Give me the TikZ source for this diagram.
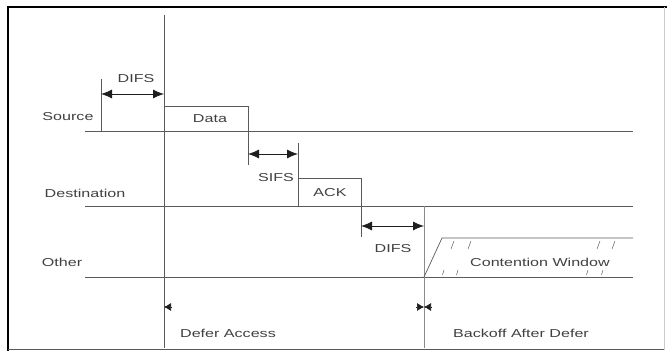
\documentclass[tikz,border=0pt]{standalone}
\usepackage{fontspec}
\setmainfont{Liberation Sans}[FakeStretch=1.4]
\usepackage{tikz}
\usetikzlibrary{positioning,arrows.meta,calc}
\definecolor{ink}     {HTML}{1E1E1E}
\definecolor{wire}    {HTML}{5A5A5A}
\definecolor{softink} {HTML}{404040}
\tikzset{
  every node/.style={font=\fontsize{11.5}{13}\selectfont, text=softink, inner sep=1pt},
  % --- lines
  lane/.style  = {draw=wire, line width=0.8pt},
  edge/.style  = {draw=wire, line width=0.7pt},
  span/.style  = {{Latex[length=11pt,width=9pt]}-{Latex[length=11pt,width=9pt]},
                  draw=ink, line width=0.8pt},
  pin/.style   = {-{Latex[length=7pt,width=8pt]}, draw=ink, line width=0.6pt},
  hatch/.style = {draw=wire, line width=0.5pt},
}

\begin{document}
\begin{tikzpicture}[x=1pt,y=-1pt]
  \useasboundingbox (0,0) rectangle (667,352);
  % frame
  \draw[draw=black, line width=1.6pt] (8,351) -- (8,7) -- (667,7);
  \draw[draw=wire, line width=1pt] (8,350) -- (664,350);
  \draw[draw=black!20, line width=0.6pt] (664,7) -- (664,350);

  % lanes
  \coordinate (s0) at (85,131);  \coordinate (s1) at (633,131);
  \coordinate (d0) at (85,206);  \coordinate (d1) at (633,206);
  \coordinate (o0) at (85,277);  \coordinate (o1) at (633,277);
  \draw[lane] (s0) -- (s1);
  \draw[lane] (d0) -- (d1);
  \draw[lane] (o0) -- (o1);
  \node (src) at (68,117) {Source};
  \node (dst) at (85,193) {Destination};
  \node (oth) at (62,262) {Other};

  % defer / backoff markers
  \coordinate (v1t) at (164,15);  \coordinate (v1b) at (164,348);
  \coordinate (v2t) at (424,206); \coordinate (v2b) at (424,348);
  \draw[edge] (v1t) -- (v1b);
  \draw[edge, draw=wire!70] (v2t) -- (v2b);

  % source: DIFS then Data
  \coordinate (t0)  at (101,79);
  \coordinate (t0b) at (101,131);
  \draw[edge] (t0) -- (t0b);
  \draw[span] (101,94) coordinate (a0) -- (164,94) coordinate (a1);
  \node (difs1) at (136,79) {DIFS};
  \draw[edge] (164,106) coordinate (dat0) -- (248,106) -- (248,165) coordinate (dat1);
  \node (data) at (210,119) {Data};

  % destination: SIFS then ACK
  \draw[edge] (298,143) coordinate (t1) -- (298,206) coordinate (t1b);
  \draw[span] (248,154) coordinate (b0) -- (298,154) coordinate (b1);
  \node (sifs) at (276,178) {SIFS};
  \draw[edge] (298,178) coordinate (ack0) -- (361,178) -- (361,237) coordinate (ack1);
  \node (ack) at (330,193) {ACK};

  % other: DIFS then contention window
  \draw[span] (361,226) coordinate (c0) -- (424,226) coordinate (c1);
  \node (difs2) at (393,249) {DIFS};
  \draw[edge] (424,277) coordinate (cw0) -- (442,238) coordinate (cw1) -- (633,238) coordinate (cw2);
  \foreach \x in {454,471,600,615}
    \draw[hatch] (\x,241) -- (\x-3,249);
  \foreach \x in {444,458,588,603}
    \draw[hatch] (\x,270) -- (\x-1.5,275);
  \node (cw) at (540,262) {Contention Window};

  % bottom labels
  \draw[pin] ($(v1b|-0,307)+(8,0)$) -- (v1b|-0,307);
  \draw[pin] ($(v2b|-0,307)+(-8,0)$) -- (v2b|-0,307);
  \draw[pin] ($(v2b|-0,307)+(8,0)$) -- (v2b|-0,307);
  \node (defer)   at (228,333) {Defer Access};
  \node (backoff) at (521,333) {Backoff After Defer};
\end{tikzpicture}
\end{document}
